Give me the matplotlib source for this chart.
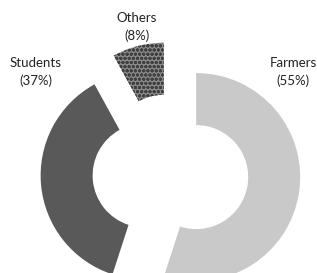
import matplotlib
matplotlib.use("Agg")
import matplotlib.pyplot as plt

categories = ["Farmers", "Students", "Others"]
values = [55, 37, 8]
labels = ["Farmers\n(55%)", "Students\n(37%)", "Others\n(8%)"]

W, H = 317, 273
cx, cy, R = 170.5, 173.0, 104.0

plt.rcParams['hatch.linewidth'] = 1.0
fig = plt.figure(figsize=(W / 100, H / 100), dpi=100)
ax = fig.add_axes([0, 0, 1, 1])

colors = ["#c9c9c9", "#595959", "#8a8a8a"]
wedges, _ = ax.pie(values, startangle=90, counterclock=False, radius=1.0,
                   explode=[0.25, 0.25, 0.26], colors=colors,
                   wedgeprops=dict(width=0.5, linewidth=0))
wedges[2].set_hatch("oooo")
wedges[2].set_edgecolor("#404040")
wedges[2].set_linewidth(0)

ax.set_xlim(-cx / R, (W - cx) / R)
ax.set_ylim(-(H - cy) / R, cy / R)
ax.set_aspect("auto")
ax.axis("off")

label_pos = [(293, 72), (36, 72), (137, 27)]
for lab, (px, py) in zip(labels, label_pos):
    fig.text(px / W, 1 - py / H, lab, ha="center", va="center",
             fontsize=9.5, family="Lato", color="#222222", linespacing=1.45)

fig.savefig("out.png", dpi=100)
